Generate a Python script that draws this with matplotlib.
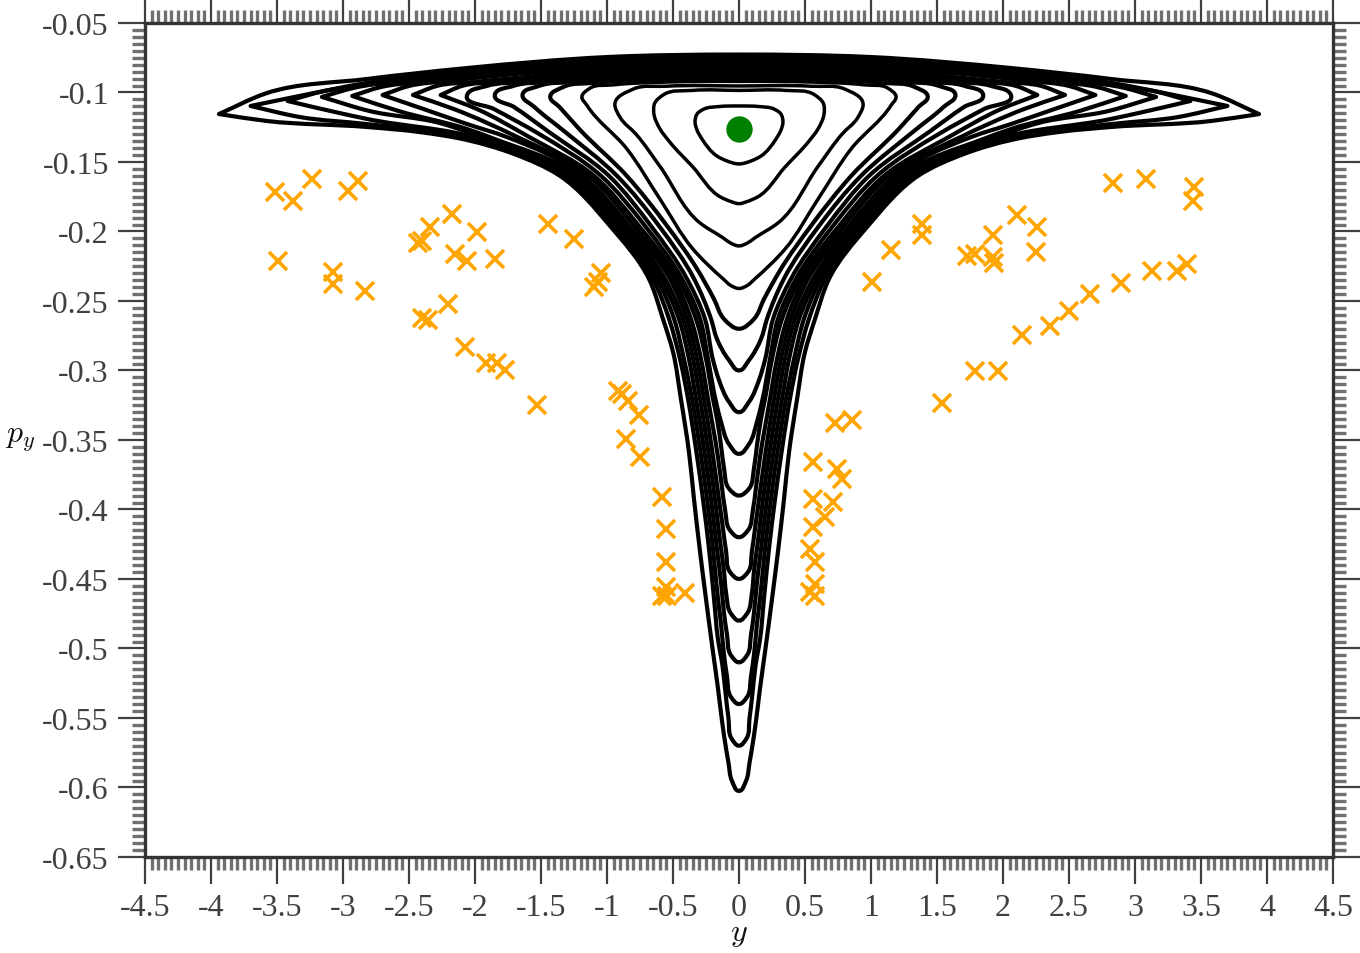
"""
Poincare section in the (y, p_y) plane: nested orbits, chaotic points, central fixed point.
"""

import matplotlib

matplotlib.use("Agg")
import matplotlib.pyplot as plt
import numpy as np
from matplotlib.patches import PathPatch
from matplotlib.path import Path

# right half of each orbit, bottom -> outer vertex -> top; the left half is its mirror
orbit_01_y = [0, .09, .167, .28, .318, .333, .318, .265, .15, 0]
orbit_01_py = [-.1514, -.1493, -.1457, -.1335, -.127, -.1212, -.1155, -.1119, -.1101, -.1097]
orbit_02_y = [0, .06, .14, .35, .53, .60, .645, .64, .57, .35, 0]
orbit_02_py = [-.18, -.1785, -.1752, -.1535, -.135, -.126, -.115, -.108, -.1015, -.0985, -.0985]
orbit_03_y = [0, .06, .12, .30, .60, .78, .90, .94, .80, .55, 0]
orbit_03_py = [-.2104, -.2085, -.2046, -.1935, -.153, -.13, -.118, -.108, -.0975, -.0955, -.0953]
orbit_04_y = [0, .06, .12, .35, .60, .85, 1.15, 1.19, 1.13, .95, .55, 0]
orbit_04_py = [-.241, -.239, -.2341, -.2125, -.1765, -.1405, -.1095, -.103, -.097, -.0945, -.0925, -.092]
orbit_05_y = [0, .114, .19, .318, .545, .85, 1.21, 1.36, 1.43, 1.33, 1.1, .61, 0]
orbit_05_py = [-.27, -.2629, -.2485, -.2269, -.196, -.16, -.1263, -.1104, -.1032, -.096, -.0931, -.0906, -.0899]
orbit_06_y = [0, .076, .167, .212, .34, .606, .924, 1.326, 1.55, 1.64, 1.515, 1.25, .76, 0]
orbit_06_py = [-.30, -.2925, -.2773, -.2629, -.2341, -.196, -.16, -.1277, -.1104, -.1018, -.0953, -.0924, -.0892, -.0878]
orbit_07_y = [0, .076, .152, .197, .258, .394, .667, .985, 1.44, 1.705, 1.85, 1.71, 1.44, .91, .45, 0]
orbit_07_py = [-.33, -.3225, -.3068, -.2924, -.2629, -.2341, -.196, -.16, -.1284, -.1104, -.1018, -.0953, -.0924, -.0888, -.087, -.0863]
orbit_08_y = [0, .076, .136, .174, .235, .295, .432, .712, 1.045, 1.515, 1.856, 2.06, 1.91, 1.63, 1.06, .53, 0]
orbit_08_py = [-.36, -.3529, -.337, -.3226, -.2917, -.2629, -.2341, -.196, -.16, -.1298, -.1119, -.1018, -.0953, -.0924, -.0881, -.0856, -.0849]
orbit_09_y = [0, .076, .114, .136, .167, .197, .25, .326, .462, .758, 1.098, 1.59, 1.985, 2.26, 2.1, 1.82, 1.21, .61, 0]
orbit_09_py = [-.39, -.385, -.3699, -.354, -.3346, -.3205, -.2917, -.2629, -.2341, -.196, -.16, -.132, -.1119, -.1018, -.0953, -.0924, -.0874, -.0845, -.0834]
orbit_10_y = [0, .068, .106, .129, .159, .235, .288, .364, .492, .795, 1.136, 1.68, 2.16, 2.47, 2.29, 2.0, 1.36, .68, 0]
orbit_10_py = [-.42, -.415, -.3999, -.384, -.3625, -.3205, -.2917, -.2629, -.2341, -.196, -.16, -.132, -.1119, -.1018, -.0953, -.0924, -.0867, -.0831, -.082]
orbit_11_y = [0, .068, .098, .121, .152, .205, .265, .318, .394, .523, .833, 1.18, 1.76, 2.06, 2.39, 2.70, 2.5, 2.2, 1.515, .758, 0]
orbit_11_py = [-.45, -.445, -.4299, -.414, -.3925, -.3565, -.3205, -.2917, -.2629, -.2341, -.196, -.16, -.132, -.1227, -.1119, -.1018, -.0953, -.0917, -.0853, -.0816, -.0806]
orbit_12_y = [0, .06, .098, .114, .144, .182, .235, .295, .348, .424, .56, .864, 1.22, 1.85, 2.06, 2.58, 2.93, 2.71, 2.42, 2.06, 1.0, 0]
orbit_12_py = [-.48, -.475, -.4599, -.444, -.4225, -.3925, -.3565, -.3205, -.2917, -.2629, -.2341, -.196, -.16, -.1335, -.1263, -.1133, -.1025, -.096, -.0924, -.0889, -.0802, -.0791]
orbit_13_y = [0, .06, .091, .114, .136, .167, .212, .265, .326, .379, .455, .591, .894, 1.258, 1.91, 2.27, 2.8, 3.16, 2.92, 2.58, 2.06, 1.0, 0]
orbit_13_py = [-.51, -.505, -.4899, -.474, -.4525, -.4284, -.3925, -.3565, -.3205, -.2917, -.2629, -.2341, -.196, -.16, -.1335, -.1219, -.1133, -.1032, -.0967, -.0917, -.0874, -.0788, -.0777]
orbit_14_y = [0, .06, .091, .114, .136, .159, .197, .242, .295, .356, .417, .492, .621, .924, 1.295, 1.955, 2.82, 3.03, 3.42, 3.14, 2.82, 2.06, 1.0, 0]
orbit_14_py = [-.54, -.535, -.5199, -.504, -.4825, -.4644, -.4284, -.3925, -.3565, -.3205, -.2917, -.2629, -.2341, -.196, -.16, -.1335, -.119, -.1147, -.1061, -.0989, -.0946, -.086, -.0773, -.0762]
orbit_15_y = [0, .055, .08, .1, .125, .16, .189, .227, .273, .326, .386, .447, .53, .652, .955, 1.326, 2.015, 2.82, 3.33, 3.70, 3.33, 2.82, 2.06, 1.0, 0]
orbit_15_py = [-.57, -.565, -.5499, -.534, -.5125, -.4929, -.4644, -.4284, -.3925, -.3565, -.3205, -.2917, -.2629, -.2341, -.196, -.16, -.1327, -.1227, -.1176, -.1097, -.1025, -.0931, -.0845, -.0759, -.0745]
orbit_16_y = [0, .053, .08, .098, .129, .159, .197, .25, .295, .341, .379, .44, .5, .576, .682, .977, 1.356, 1.705, 2.06, 2.424, 2.82, 3.576, 3.94, 3.58, 2.82, 2.06, 1.0, 0]
orbit_16_py = [-.6025, -.5953, -.582, -.572, -.5519, -.5288, -.5025, -.4644, -.4305, -.3925, -.3587, -.3205, -.2866, -.2629, -.2341, -.196, -.16, -.1442, -.1342, -.1284, -.1248, -.1205, -.1155, -.1005, -.0903, -.0824, -.0745, -.0727]

ORBITS = [
    (orbit_01_y, orbit_01_py), (orbit_02_y, orbit_02_py), (orbit_03_y, orbit_03_py),
    (orbit_04_y, orbit_04_py), (orbit_05_y, orbit_05_py), (orbit_06_y, orbit_06_py),
    (orbit_07_y, orbit_07_py), (orbit_08_y, orbit_08_py), (orbit_09_y, orbit_09_py),
    (orbit_10_y, orbit_10_py), (orbit_11_y, orbit_11_py), (orbit_12_y, orbit_12_py),
    (orbit_13_y, orbit_13_py), (orbit_14_y, orbit_14_py), (orbit_15_y, orbit_15_py),
    (orbit_16_y, orbit_16_py),
]

# scattered points, left and right of the orbit island
left_y = [-3.515, -3.379, -3.235, -2.962, -2.886, -3.492, -3.076, -3.076, -2.833, -2.432, -2.402,
          -2.341, -2.174, -1.985, -1.447, -2.152, -2.061, -1.848, -1.25, -1.045, -1.068, -1.098,
          -2.205, -2.402, -2.356, -2.076, -1.917, -1.833, -1.773, -1.53, -.917, -.886, -.841,
          -.758, -.856, -.75, -.583, -.553, -.553, -.553, -.583, -.545, -.409]
left_py = [-.1715, -.178, -.1622, -.1708, -.1636, -.2211, -.229, -.2377, -.2427, -.2082, -.2067,
           -.1967, -.1873, -.2003, -.1945, -.2161, -.2211, -.2197, -.2053, -.2297, -.2362, -.2398,
           -.252, -.2621, -.2635, -.283, -.2945, -.2945, -.30, -.3247, -.3146, -.3167, -.3218,
           -.3318, -.3491, -.3621, -.3908, -.4138, -.4375, -.4555, -.462, -.462, -.4598]
right_y = [2.833, 3.083, 3.447, 3.439, 1.386, 1.386, 1.152, 1.008, 2.106, 2.258, 1.924, 2.25,
           1.727, 1.788, 1.924, 1.932, 3.394, 3.318, 3.129, 2.894, 2.659, 2.5, 2.356, 2.144,
           1.788, 1.962, 1.538, .727, .856, .561, .742, .78, .561, .712, .652, .561, .538,
           .576, .576, .538, .576]
right_py = [-.165, -.1622, -.1679, -.178, -.1945, -.2024, -.2132, -.2362, -.188, -.1967, -.2024,
            -.2146, -.2175, -.2161, -.2182, -.2226, -.2233, -.2283, -.2283, -.2369, -.2448, -.2571,
            -.2679, -.2743, -.3002, -.3002, -.3232, -.3376, -.3354, -.3656, -.3707, -.3779, -.3922,
            -.3944, -.4052, -.4124, -.4282, -.4375, -.4533, -.4591, -.462]

fixed_point_y = [0]
fixed_point_py = [-.126]

x_ticks = [-4.5, -4, -3.5, -3, -2.5, -2, -1.5, -1, -.5, 0, .5, 1, 1.5, 2, 2.5, 3, 3.5, 4, 4.5]
x_tick_labels = ["-4.5", "-4", "-3.5", "-3", "-2.5", "-2", "-1.5", "-1", "-0.5", "0",
                 "0.5", "1", "1.5", "2", "2.5", "3", "3.5", "4", "4.5"]
y_ticks = [-.05, -.1, -.15, -.2, -.25, -.3, -.35, -.4, -.45, -.5, -.55, -.6, -.65]
y_tick_labels = ["-0.05", "-0.1", "-0.15", "-0.2", "-0.25", "-0.3", "-0.35", "-0.4",
                 "-0.45", "-0.5", "-0.55", "-0.6", "-0.65"]

W, H = 1360, 954
TICK_COLOR = "#404040"


def orbit_path(ax, half_y, half_py, sharp_tips):
    """Closed Bezier path through the orbit knots and their mirror images."""
    half_y = np.array(half_y)
    half_py = np.array(half_py)
    data = np.column_stack([
        np.concatenate([half_y, -half_y[-2:0:-1]]),
        np.concatenate([half_py, half_py[-2:0:-1]]),
    ])
    # tangents are worked out on screen, the two axes have very different scales
    pts = ax.transData.transform(data)
    to_next = np.roll(pts, -1, axis=0) - pts
    lengths = np.hypot(to_next[:, 0], to_next[:, 1])
    units = to_next / lengths[:, None]
    prev_units = np.roll(units, 1, axis=0)
    prev_lengths = np.roll(lengths, 1)
    tangents = prev_units * lengths[:, None] + units * prev_lengths[:, None]
    tangents /= np.hypot(tangents[:, 0], tangents[:, 1])[:, None]

    arrive = tangents.copy()
    leave = tangents.copy()
    if sharp_tips:
        for tip in (np.argmax(data[:, 0]), np.argmin(data[:, 0])):
            arrive[tip] = prev_units[tip]
            leave[tip] = units[tip]

    verts = [pts[0]]
    codes = [Path.MOVETO]
    for i in range(len(pts)):
        j = (i + 1) % len(pts)
        verts += [pts[i] + leave[i] * lengths[i] / 3, pts[j] - arrive[j] * lengths[i] / 3, pts[j]]
        codes += [Path.CURVE4, Path.CURVE4, Path.CURVE4]
    return Path(ax.transData.inverted().transform(np.array(verts)), codes)


plt.rcParams["font.family"] = ["Liberation Serif", "DejaVu Serif"]
plt.rcParams["mathtext.fontset"] = "cm"

fig = plt.figure(figsize=(W / 100, H / 100), dpi=100)
ax = fig.add_axes([145 / W, (H - 858) / H, 1188 / W, 834 / H])
ax.set_xlim(-4.5, 4.5)
ax.set_ylim(-.65, -.05)

for k, (orbit_y, orbit_py) in enumerate(ORBITS):
    ax.add_patch(PathPatch(
        orbit_path(ax, orbit_y, orbit_py, sharp_tips=k >= 8),
        facecolor="none",
        edgecolor="black",
        linewidth=2.5 if k < 4 else 3.0,
        joinstyle="round",
    ))

ax.plot(left_y, left_py, "x", color="orange", markersize=13.5, markeredgewidth=2.6, linestyle="none")
ax.plot(right_y, right_py, "x", color="orange", markersize=13.5, markeredgewidth=2.6, linestyle="none")
ax.plot(fixed_point_y, fixed_point_py, "o", color="green", markersize=19, markeredgewidth=0)

ax.set_xticks(x_ticks)
ax.set_xticklabels(x_tick_labels, fontsize=23, color=TICK_COLOR)
ax.set_yticks(y_ticks)
ax.set_yticklabels(y_tick_labels, fontsize=23, color=TICK_COLOR)
ax.set_xticks(np.arange(-90, 91) / 20, minor=True)
ax.set_yticks(np.arange(-130, -9) / 200, minor=True)
ax.tick_params(which="major", direction="out", length=19.5, width=1.6, color=TICK_COLOR,
               top=True, right=True, pad=6.5)
ax.tick_params(which="minor", direction="out", length=9.5, width=2.4, color="#707070",
               top=True, right=True)
for spine in ax.spines.values():
    spine.set_linewidth(2.4)
    spine.set_color("#333333")

fig.text(20 / W, 1 - 440 / H, "$p_y$", fontsize=23, ha="center", va="center", color="#111111")
fig.text(739 / W, 1 - 935 / H, "$y$", fontsize=23, ha="center", va="center", color="#111111")

fig.savefig("out.png", dpi=100)
plt.close(fig)
